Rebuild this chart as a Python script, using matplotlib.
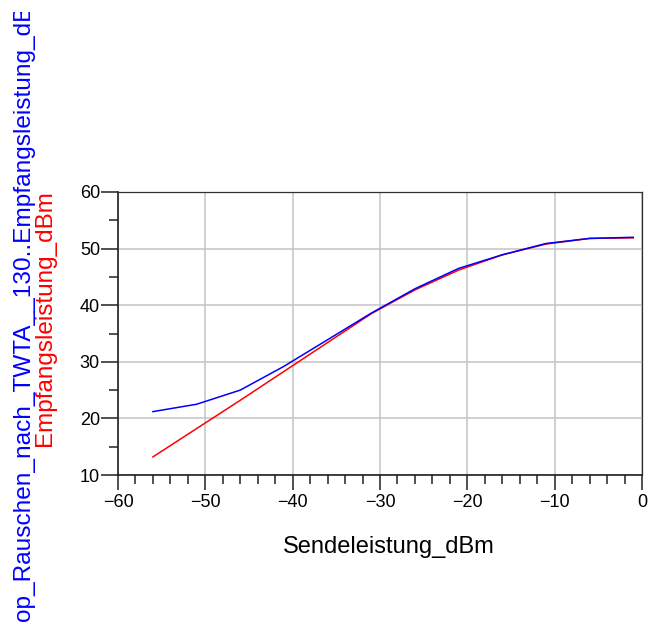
import matplotlib
matplotlib.use('Agg')
import matplotlib.pyplot as plt
from matplotlib.patches import Rectangle
from matplotlib.ticker import MultipleLocator

plt.rcParams['font.family'] = ['Liberation Sans', 'DejaVu Sans']

# Sendeleistung (dBm)
send_dbm = [-56, -51, -46, -41, -36, -31, -26, -21, -16, -11, -6, -1]
# received power, ideal (red) and with noise after TWTA (blue)
empf_red = [13.2, 18.2, 23.2, 28.3, 33.4, 38.5, 42.7, 46.2, 48.9, 50.8, 51.8, 51.9]
empf_blue = [21.2, 22.5, 25.0, 29.2, 33.9, 38.6, 42.9, 46.5, 48.9, 50.9, 51.8, 52.0]

W, H = 650, 622
fig = plt.figure(figsize=(W / 100, H / 100), dpi=100)
ax = fig.add_axes([118 / W, 1 - 475 / H, (642 - 118) / W, (475 - 192) / H])

ax.plot(send_dbm, empf_red, color='#ff0000', linewidth=1.1, zorder=3)
ax.plot(send_dbm, empf_blue, color='#0000ff', linewidth=1.1, zorder=4)

ax.set_xlim(-60, 0)
ax.set_ylim(10, 60)
ax.xaxis.set_major_locator(MultipleLocator(10))
ax.xaxis.set_minor_locator(MultipleLocator(2))
ax.yaxis.set_major_locator(MultipleLocator(10))
ax.yaxis.set_minor_locator(MultipleLocator(5))

ax.grid(True, which='major', color='#c8c8c8', linewidth=1.2)
ax.set_axisbelow(True)

for side in ['left', 'bottom']:
    ax.spines[side].set_color('#202020')
    ax.spines[side].set_linewidth(1.2)
for side in ['top', 'right']:
    ax.spines[side].set_color('#303030')
    ax.spines[side].set_linewidth(0.9)

ax.tick_params(axis='y', which='major', direction='out', length=12, width=1.1,
               color='#202020', labelsize=13, pad=1)
ax.tick_params(axis='y', which='minor', direction='out', length=6.5, width=1.1,
               color='#202020')
ax.tick_params(axis='x', which='major', direction='out', length=11, width=1.1,
               color='#202020', labelsize=13, pad=3)
ax.tick_params(axis='x', which='minor', direction='out', length=6.5, width=1.1,
               color='#202020')

fig.text(389 / W, 1 - 547 / H, 'Sendeleistung_dBm', ha='center', va='center',
         fontsize=17)

# y labels (two series, stacked like the original export)
fig.text(45 / W, 1 - 318 / H, 'Empfangsleistung_dBm', rotation=90,
         ha='center', va='center', fontsize=17.5, color='#ff0000')
blue_lbl = fig.text(24 / W, 1 - 621 / H,
                    'op_Rauschen_nach_TWTA__130..Empfangsleistung_dBm',
                    rotation=90, rotation_mode='anchor', ha='left', va='center',
                    fontsize=17.55, color='#0000ff')
clip = Rectangle((0, 0), 1, 1 - 12 / H, transform=fig.transFigure,
                 facecolor='none', edgecolor='none')
fig.add_artist(clip)
blue_lbl.set_clip_path(clip)

fig.savefig('out.png', dpi=100)
